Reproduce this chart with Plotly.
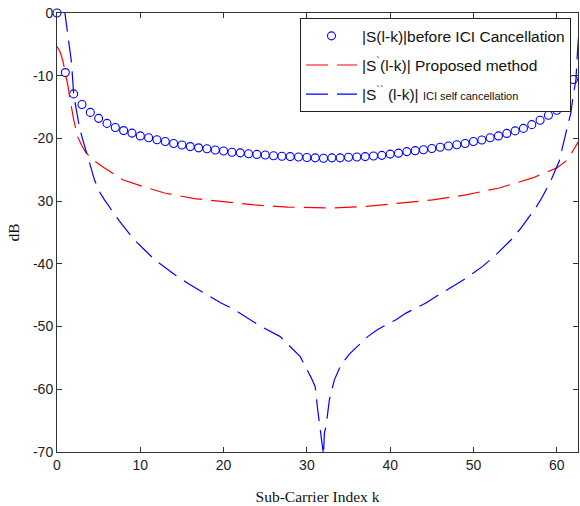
import plotly.graph_objects as go

# |S(l-k)| before ICI cancellation, one value per sub-carrier index
k_before = list(range(0, 63))
s_before = [0.0, -9.5, -12.9, -14.6, -15.85, -16.8, -17.6, -18.25, -18.75, -19.15,
            -19.6, -19.9, -20.2, -20.5, -20.8, -21.05, -21.3, -21.5, -21.65, -21.85,
            -22.0, -22.2, -22.3, -22.45, -22.55, -22.65, -22.75, -22.85, -22.9, -22.97,
            -23.05, -23.1, -23.15, -23.1, -23.1, -23.0, -22.95, -22.9, -22.8, -22.7,
            -22.5, -22.35, -22.1, -21.95, -21.8, -21.6, -21.4, -21.2, -21.0, -20.8,
            -20.5, -20.25, -19.9, -19.6, -19.2, -18.8, -18.4, -17.8, -17.1, -16.3,
            -15.5, -14.8, -10.6]

# |S'(l-k)| proposed method
k_prop = [0, 0.4, 0.72, 1.0, 1.3, 1.6, 2.0, 2.5, 3.0, 3.5, 4.3, 5.7, 7.9, 10.5, 12.9,
          16.5, 19.7, 23.7, 27.7, 31.0, 33.1, 37.1, 41.1, 45.1, 49.1, 53.1, 57.1, 60.0,
          61.3, 62.3, 62.6]
s_prop = [-5.3, -6.3, -7.7, -9.3, -11.5, -14.0, -17.0, -19.8, -21.2, -22.3, -23.4,
          -24.7, -26.6, -27.75, -28.7, -29.6, -30.05, -30.6, -30.95, -31.1, -31.1,
          -30.85, -30.3, -29.8, -29.0, -27.9, -26.3, -24.7, -23.4, -21.3, -20.5]

# |S''(l-k)| ICI self cancellation
k_self = [0.9, 1.2, 1.5, 1.75, 2.0, 2.35, 2.7, 3.05, 3.7, 4.5, 5.1, 5.7, 7.5, 9.3, 10.5,
          11.7, 14.1, 15.7, 17.7, 19.7, 21.3, 24.5, 26.8, 28.1, 29.2, 30.5, 31.0, 31.3,
          31.7, 32.0, 32.1, 32.3, 32.7, 33.3, 34.1, 35.1, 37.3, 38.6, 40.7, 41.9, 44.3,
          45.5, 47.5, 49.1, 51.1, 52.5, 54.5, 55.7, 57.6, 58.3, 59.4, 60.3, 61.1, 61.7,
          61.9, 62.3, 62.5, 62.7]
s_self = [0.5, -2.5, -4.8, -8.0, -13.0, -16.0, -18.3, -20.0, -22.9, -26.6, -28.5, -29.8,
          -33.2, -36.2, -37.75, -39.3, -41.7, -43.1, -44.7, -46.25, -47.3, -50.0, -51.6,
          -53.4, -54.8, -58.1, -59.6, -63.3, -67.0, -70.5, -67.0, -65.9, -61.7, -58.5,
          -56.1, -54.4, -51.6, -50.4, -48.9, -47.85, -46.25, -45.2, -43.6, -42.3, -40.4,
          -38.8, -36.2, -34.3, -30.8, -29.25, -26.4, -23.6, -19.1, -15.9, -13.8, -10.6,
          -6.0, -2.0]

y_ticks = [-70, -60, -50, -40, -30, -20, -10, 0]
y_tick_text = ["-70", "-60", "-50", "-40", "30", "-20", "-10", "0"]
x_ticks = [0, 10, 20, 30, 40, 50, 60]

dash = "22px,9px"
sans = "Liberation Sans, Arial"
serif = "Liberation Serif, Times New Roman"

fig = go.Figure()
fig.add_trace(go.Scatter(
    x=k_before, y=s_before, mode="markers",
    name="|S(l-k)|before ICI Cancellation",
    marker=dict(symbol="circle-open", size=8, color="#0000ff",
                line=dict(width=1.1, color="#0000ff")),
    cliponaxis=False, legendgroup="a"))
fig.add_trace(go.Scatter(
    x=k_prop, y=s_prop, mode="lines",
    name="|S<sup>`</sup>(l-k)| Proposed method",
    line=dict(color="#ff0000", width=1.2, dash=dash), legendgroup="b"))
fig.add_trace(go.Scatter(
    x=k_self, y=s_self, mode="lines",
    name="|S<sup>``</sup> (l-k)| <span style='font-size:11px'>ICI self cancellation</span>",
    line=dict(color="#0000ff", width=1.2, dash=dash), legendgroup="c"))

axis_common = dict(
    showline=True, linecolor="#333333", linewidth=1, mirror="ticks",
    ticks="inside", ticklen=5, tickcolor="#333333", tickwidth=1,
    showgrid=False, zeroline=False,
    tickfont=dict(family=sans, size=14, color="#222222"),
)

fig.update_layout(
    width=580, height=506,
    margin=dict(l=57, r=2, t=13, b=54),
    paper_bgcolor="white", plot_bgcolor="white",
    showlegend=True,
    legend=dict(
        x=0.4664, y=0.988, xanchor="left", yanchor="top",
        bgcolor="white", bordercolor="#222222", borderwidth=1,
        font=dict(family=sans, size=15.5, color="#111111"),
        itemwidth=51, tracegroupgap=6, traceorder="grouped",
    ),
    xaxis=dict(range=[0, 62.55], tickvals=x_ticks,
               title=dict(text="Sub-Carrier Index k", standoff=19,
                          font=dict(family=serif, size=15.5, color="#111111")),
               **axis_common),
    yaxis=dict(range=[-70, 0], tickvals=y_ticks, ticktext=y_tick_text,
               title=dict(text="dB", standoff=9,
                          font=dict(family=serif, size=15.5, color="#111111")),
               **axis_common),
)

fig.write_html("out.html")
